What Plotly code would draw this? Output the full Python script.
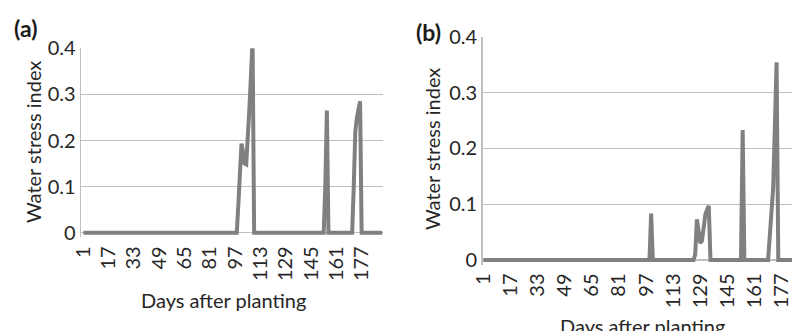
import plotly.graph_objects as go

# ---- data ----
# Panel (a): daily water stress index; days listed are the break points of the series
days_a = [1, 98, 99, 100, 101, 102, 103, 104, 105, 106, 107, 108, 109,
          153, 154, 155, 156, 171, 172, 173, 174, 175, 176, 177, 190]
wsi_a = [0, 0, 0.06, 0.15, 0.193, 0.175, 0.15, 0.148, 0.2, 0.27, 0.34, 0.42, 0,
         0, 0.1, 0.265, 0, 0, 0.1, 0.22, 0.25, 0.27, 0.285, 0, 0]

# Panel (b)
days_b = [1, 99, 100, 101, 125, 126, 127, 128, 129, 130, 131, 132, 133, 134, 135,
          153, 154, 155, 169, 170, 171, 172, 173, 174, 175, 190]
wsi_b = [0, 0, 0.083, 0, 0, 0.01, 0.073, 0.045, 0.03, 0.035, 0.06, 0.082, 0.09, 0.097, 0,
         0, 0.233, 0, 0, 0.043, 0.087, 0.13, 0.24, 0.354, 0, 0]

x_ticks = [1, 17, 33, 49, 65, 81, 97, 113, 129, 145, 161, 177]
y_ticks = [0, 0.1, 0.2, 0.3, 0.4]
y_ticktext = ["0", "0.1", "0.2", "0.3", "0.4"]

LINE = "#808083"
GRID = "#bfbfbf"
TXT = "#262626"
FONT = "Lato, 'Open Sans', sans-serif"
W, H = 792, 331

fig = go.Figure()
fig.add_trace(go.Scatter(x=days_a, y=wsi_a, mode="lines",
                         line=dict(color=LINE, width=4), xaxis="x", yaxis="y",
                         showlegend=False, hoverinfo="skip"))
fig.add_trace(go.Scatter(x=days_b, y=wsi_b, mode="lines",
                         line=dict(color=LINE, width=4), xaxis="x2", yaxis="y2",
                         showlegend=False, hoverinfo="skip"))

xcommon = dict(tickmode="array", tickvals=x_ticks, ticktext=[str(v) for v in x_ticks],
               tickangle=-90, showgrid=False, zeroline=False, showline=False,
               ticks="", automargin=False, ticklabeloverflow="allow", ticklabelstandoff=4,
               tickfont=dict(family=FONT, size=20, color=TXT))
ycommon = dict(tickmode="array", tickvals=y_ticks, ticktext=y_ticktext,
               showgrid=True, gridcolor=GRID, gridwidth=1.3, zeroline=False,
               showline=True, linecolor=GRID, linewidth=1.3, ticks="", automargin=False,
               ticklabeloverflow="allow",
               tickfont=dict(family=FONT, size=20, color=TXT))

fig.update_layout(
    width=W, height=H, margin=dict(l=0, r=0, t=0, b=0, autoexpand=False),
    paper_bgcolor="white", plot_bgcolor="white",
    xaxis=dict(domain=[81 / W, 383 / W], range=[-0.5, 190.5], anchor="y", **xcommon),
    yaxis=dict(domain=[(H - 237.3) / H, (H - 48.3) / H], range=[-0.01, 0.4], anchor="x", **ycommon),
    xaxis2=dict(domain=[482.5 / W, 1.0], range=[0.5, 183.1], anchor="y2", **xcommon),
    yaxis2=dict(domain=[(H - 264.5) / H, (H - 36.7) / H], range=[-0.008, 0.4], anchor="x2", **ycommon),
)

ann = []
def txt(x, y, s, size=20, bold=False, angle=0):
    ann.append(dict(x=x / W, y=1 - y / H, xref="paper", yref="paper", text=("<b>%s</b>" % s) if bold else s,
                    showarrow=False, textangle=angle, xanchor="center", yanchor="middle",
                    font=dict(family=FONT, size=size, color="#1a1a1a" if bold else TXT)))

txt(25, 28, "(a)", size=23, bold=True)
txt(429, 32, "(b)", size=23, bold=True)
txt(33, 142, "Water stress index", angle=-90)
txt(432, 149, "Water stress index", angle=-90)
txt(223, 300, "Days after planting")
txt(642, 326, "Days after planting")
fig.update_layout(annotations=ann)

fig.write_html("out.html", config={"displayModeBar": False, "staticPlot": True},
               post_script="document.body.style.margin='0';document.body.style.overflow='hidden';")
